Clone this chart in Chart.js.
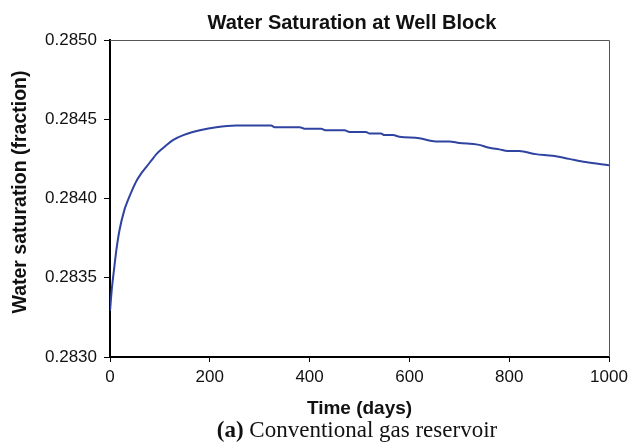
<!DOCTYPE html>
<html lang="en">
<head>
<meta charset="UTF-8">
<title>Water Saturation at Well Block</title>
<script src="https://cdn.jsdelivr.net/npm/chart.js"></script>
<style>
    html, body { margin: 0; padding: 0; background: #fff; }
    #wrap { width: 630px; height: 448px; }
</style>
</head>
<body>
<div id="wrap"><canvas id="swChart" width="630" height="448"></canvas></div>
<script>
// values
var days = [0, 4, 8, 13, 19, 29, 36, 44, 53, 63, 73, 83, 93, 107, 127, 147, 180, 213, 253, 323,
    330, 380, 390, 423, 433, 470, 480, 513, 520, 543, 550, 567, 580, 620, 653, 680, 700, 737, 760, 780,
    797, 820, 853, 887, 920, 953, 1000];
var waterSat = [0.28329, 0.28344, 0.28355, 0.28368, 0.28380, 0.28393, 0.28399, 0.28405, 0.28411, 0.28416,
    0.28420, 0.28424, 0.28428, 0.28432, 0.28437, 0.28440, 0.28443, 0.28445, 0.28446, 0.28446,
    0.28445, 0.28445, 0.28444, 0.28444, 0.28443, 0.28443, 0.28442, 0.28442, 0.28441, 0.28441,
    0.28440, 0.28440, 0.28439, 0.28438, 0.28436, 0.28436, 0.28435, 0.28434, 0.28432, 0.28431,
    0.28430, 0.28430, 0.28428, 0.28427, 0.28425, 0.28423, 0.28421];
var xTicks = [0, 200, 400, 600, 800, 1000];
var yTicks = [0.2830, 0.2835, 0.2840, 0.2845, 0.2850];

var titleText = 'Water Saturation at Well Block';
var yTitle = 'Water saturation (fraction)';
var captionLabel = '(a)';
var captionText = ' Conventional gas reservoir';

var sans = '"Liberation Sans", Arial, Helvetica, sans-serif';
var serif = '"Liberation Serif", "Times New Roman", serif';

var points = days.map(function (d, i) { return { x: d, y: waterSat[i] }; });

// title, y title, caption and the thin top/right frame
var extras = {
    id: 'extras',
    afterDraw: function (chart) {
        var c = chart.ctx;
        var a = chart.chartArea;
        c.save();
        c.strokeStyle = '#555';
        c.lineWidth = 1;
        c.beginPath();
        c.moveTo(a.left, a.top + 0.5);
        c.lineTo(a.right + 0.5, a.top + 0.5);
        c.lineTo(a.right + 0.5, a.bottom);
        c.stroke();

        c.fillStyle = '#111';
        c.textBaseline = 'alphabetic';
        c.textAlign = 'center';
        c.font = 'bold 20px ' + sans;
        c.fillText(titleText, 352, 28.5);

        c.save();
        c.translate(21, 192);
        c.rotate(-Math.PI / 2);
        c.textBaseline = 'middle';
        c.font = 'bold 19.5px ' + sans;
        c.fillText(yTitle, 0, 0);
        c.restore();

        c.textAlign = 'left';
        c.font = 'bold 23px ' + serif;
        var w1 = c.measureText(captionLabel).width;
        c.font = '23px ' + serif;
        var w2 = c.measureText(captionText).width;
        var x0 = 357 - (w1 + w2) / 2;
        c.font = 'bold 23px ' + serif;
        c.fillText(captionLabel, x0, 437);
        c.font = '23px ' + serif;
        c.fillText(captionText, x0 + w1, 437);
        c.restore();
    }
};

var ctx = document.getElementById('swChart').getContext('2d');
var swChart = new Chart(ctx, {
    type: 'line',
    data: {
        datasets: [{
            data: points,
            borderColor: '#2F43A0',
            borderWidth: 2,
            pointRadius: 0,
            cubicInterpolationMode: 'monotone',
            fill: false
        }]
    },
    options: {
        responsive: false,
        animation: false,
        layout: { padding: { top: 40, right: 21, bottom: 28, left: 0 } },
        plugins: {
            legend: { display: false },
            tooltip: { enabled: false }
        },
        scales: {
            x: {
                type: 'linear',
                min: 0,
                max: 1000,
                afterFit: function (s) { s.height = 63; s.paddingLeft = 0; s.paddingRight = 0; },
                afterBuildTicks: function (s) { s.ticks = xTicks.map(function (v) { return { value: v }; }); },
                border: { color: '#000', width: 2 },
                grid: { drawOnChartArea: false, drawTicks: true, tickLength: 5, color: '#000', lineWidth: 1 },
                ticks: {
                    padding: 5,
                    color: '#111',
                    font: { family: sans, size: 17 },
                    maxRotation: 0,
                    callback: function (v) { return String(v); }
                },
                title: {
                    display: true,
                    text: 'Time (days)',
                    color: '#111',
                    font: { family: sans, size: 19, weight: 'bold' },
                    padding: { top: 0, bottom: 0 }
                }
            },
            y: {
                min: 0.2830,
                max: 0.2850,
                afterFit: function (s) { s.width = 110; s.paddingTop = 0; s.paddingBottom = 0; },
                afterBuildTicks: function (s) { s.ticks = yTicks.map(function (v) { return { value: v }; }); },
                border: { color: '#000', width: 2 },
                grid: { drawOnChartArea: false, drawTicks: true, tickLength: 6, color: '#000', lineWidth: 1 },
                ticks: {
                    padding: 7,
                    color: '#111',
                    font: { family: sans, size: 17 },
                    callback: function (v) { return Number(v).toFixed(4); }
                }
            }
        }
    },
    plugins: [extras]
});
</script>
</body>
</html>
